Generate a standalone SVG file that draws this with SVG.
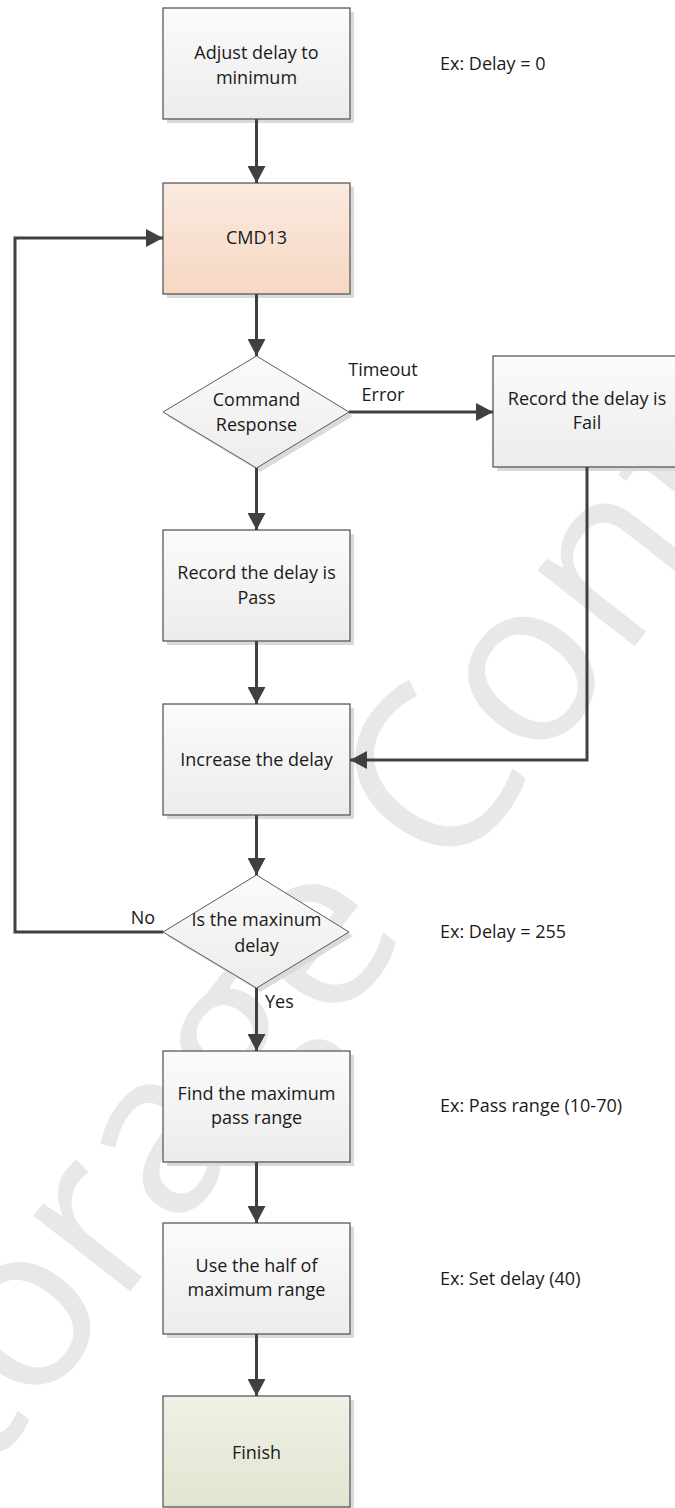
<svg xmlns="http://www.w3.org/2000/svg" width="675" height="1508" viewBox="0 0 675 1508">
<defs>
<linearGradient id="gGray" x1="0" y1="0" x2="0" y2="1"><stop offset="0" stop-color="#fbfbfb"/><stop offset="1" stop-color="#ececec"/></linearGradient>
<linearGradient id="gOrange" x1="0" y1="0" x2="0" y2="1"><stop offset="0" stop-color="#fbeadf"/><stop offset="1" stop-color="#f6d7c3"/></linearGradient>
<linearGradient id="gGreen" x1="0" y1="0" x2="0" y2="1"><stop offset="0" stop-color="#eff1e6"/><stop offset="1" stop-color="#e1e5d0"/></linearGradient>
<marker id="arr" markerUnits="userSpaceOnUse" markerWidth="18" markerHeight="18" refX="17" refY="9" orient="auto"><path d="M0,0 L17,9 L0,18 Z" fill="#404040"/></marker>
</defs>
<style>
.box{stroke:#5a5a5a;stroke-width:1.3}
.dia{stroke:#5a5a5a;stroke-width:1}
.sh{fill:#dadada}
.t{font-family:"Open Sans","Liberation Sans",sans-serif;font-size:18px;fill:#1a1a1a;text-anchor:middle}
.l{font-family:"Open Sans","Liberation Sans",sans-serif;font-size:18px;fill:#1a1a1a}
.c{fill:none;stroke:#404040;stroke-width:3}
.wm{font-family:"Open Sans","Liberation Sans",sans-serif;font-size:230px;fill:#e8e8e8}
</style>
<rect width="675" height="1508" fill="#ffffff"/>
<text class="wm" transform="translate(-95,1580) rotate(-52)">Storage Confidential</text>

<g id="n1"><rect class="sh" x="167" y="12" width="187" height="111"/><rect class="box" x="163" y="8" width="187" height="111" fill="url(#gGray)"/><text class="t" x="256.5" y="59">Adjust delay to</text><text class="t" x="256.5" y="84">minimum</text></g>
<g id="n2"><rect class="sh" x="167" y="187" width="187" height="111"/><rect class="box" x="163" y="183" width="187" height="111" fill="url(#gOrange)"/><text class="t" x="256.5" y="244">CMD13</text></g>
<g id="n3"><polygon class="sh" points="260,360 353,416 260,472 167,416"/><polygon class="dia" points="256.5,356 349,412 256.5,468 163,412" fill="url(#gGray)"/><text class="t" x="256.5" y="406">Command</text><text class="t" x="256.5" y="431">Response</text></g>
<g id="n4"><rect class="sh" x="497" y="360" width="187" height="111"/><rect class="box" x="493" y="356" width="187" height="111" fill="url(#gGray)"/><text class="t" x="587" y="405">Record the delay is</text><text class="t" x="587" y="429">Fail</text></g>
<g id="n5"><rect class="sh" x="167" y="534" width="187" height="111"/><rect class="box" x="163" y="530" width="187" height="111" fill="url(#gGray)"/><text class="t" x="256.5" y="579">Record the delay is</text><text class="t" x="256.5" y="604">Pass</text></g>
<g id="n6"><rect class="sh" x="167" y="708" width="187" height="111"/><rect class="box" x="163" y="704" width="187" height="111" fill="url(#gGray)"/><text class="t" x="256.5" y="766">Increase the delay</text></g>
<g id="n7"><polygon class="sh" points="260,879 353,936 260,992 167,936"/><polygon class="dia" points="256.5,875 349,932 256.5,988 163,932" fill="url(#gGray)"/><text class="t" x="256.5" y="926">Is the maxinum</text><text class="t" x="256.5" y="952">delay</text></g>
<g id="n8"><rect class="sh" x="167" y="1055" width="187" height="111"/><rect class="box" x="163" y="1051" width="187" height="111" fill="url(#gGray)"/><text class="t" x="256.5" y="1100">Find the maximum</text><text class="t" x="256.5" y="1124">pass range</text></g>
<g id="n9"><rect class="sh" x="167" y="1227" width="187" height="111"/><rect class="box" x="163" y="1223" width="187" height="111" fill="url(#gGray)"/><text class="t" x="256.5" y="1272">Use the half of</text><text class="t" x="256.5" y="1296">maximum range</text></g>
<g id="n10"><rect class="sh" x="167" y="1400" width="187" height="111"/><rect class="box" x="163" y="1396" width="187" height="111" fill="url(#gGreen)"/><text class="t" x="256.5" y="1459">Finish</text></g>

<g id="notes">
<text class="l" x="440" y="70">Ex: Delay = 0</text>
<text class="l" x="440" y="938">Ex: Delay = 255</text>
<text class="l" x="440" y="1112">Ex: Pass range (10-70)</text>
<text class="l" x="440" y="1285">Ex: Set delay (40)</text>
</g>

<g id="connectors">
<line class="c" x1="256.5" y1="119" x2="256.5" y2="183" marker-end="url(#arr)"/>
<line class="c" x1="256.5" y1="294" x2="256.5" y2="356" marker-end="url(#arr)"/>
<line class="c" x1="349" y1="412" x2="493" y2="412" marker-end="url(#arr)"/>
<line class="c" x1="256.5" y1="468" x2="256.5" y2="530" marker-end="url(#arr)"/>
<line class="c" x1="256.5" y1="641" x2="256.5" y2="704" marker-end="url(#arr)"/>
<polyline class="c" points="587,467 587,760 350,760" marker-end="url(#arr)"/>
<line class="c" x1="256.5" y1="815" x2="256.5" y2="875" marker-end="url(#arr)"/>
<polyline class="c" points="163,932 15,932 15,238 163,238" marker-end="url(#arr)"/>
<line class="c" x1="256.5" y1="988" x2="256.5" y2="1051" marker-end="url(#arr)"/>
<line class="c" x1="256.5" y1="1162" x2="256.5" y2="1223" marker-end="url(#arr)"/>
<line class="c" x1="256.5" y1="1334" x2="256.5" y2="1396" marker-end="url(#arr)"/>
<text class="t" x="383" y="376">Timeout</text>
<text class="t" x="383" y="401">Error</text>
<text class="t" x="143" y="924">No</text>
<text class="l" x="265" y="1008">Yes</text>
</g>
</svg>
